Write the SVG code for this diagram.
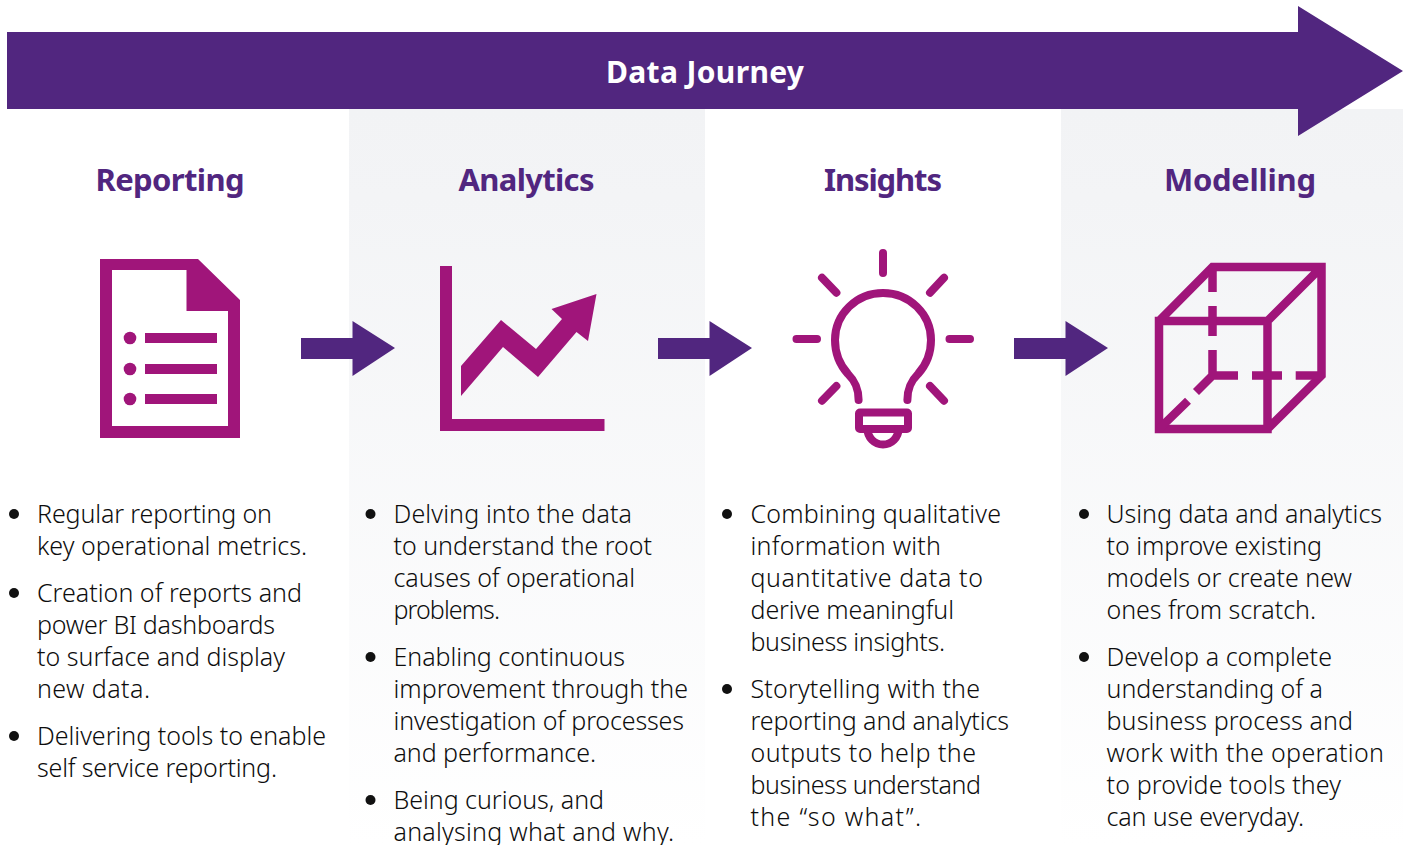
<svg xmlns="http://www.w3.org/2000/svg" width="1409" height="845" viewBox="0 0 1409 845">
<style>
.body{font-family:"Noto Sans","Open Sans","Liberation Sans",sans-serif;font-size:25px;font-weight:300;fill:#0d0d0d}
.head{font-family:"Noto Sans","Open Sans","Liberation Sans",sans-serif;font-size:31px;font-weight:700;fill:#51267f;text-anchor:middle}
.title{font-family:"Noto Sans","Open Sans","Liberation Sans",sans-serif;font-size:30px;font-weight:700;fill:#fff;text-anchor:middle}
.icon{fill:#a0157a;fill-rule:evenodd}
.ln{fill:none;stroke:#a0157a;stroke-width:8;stroke-linecap:round}
.cube{fill:none;stroke:#a0157a;stroke-width:8.5;stroke-linecap:butt}
.arrow{fill:#51267f}
.dot{fill:#111}
</style>
<defs>
<linearGradient id="panel" x1="0" y1="0" x2="0" y2="1"><stop offset="0" stop-color="#f2f3f5"/><stop offset="0.12" stop-color="#f3f4f6"/><stop offset="1" stop-color="#fff"/></linearGradient>
<polygon id="step" points="0,17 51.500,17 51.500,0 94,27 51.500,55 51.500,38 0,38"/>
</defs>
<rect width="1409" height="845" fill="#fff"/>
<rect x="349" y="109" width="356" height="736" fill="url(#panel)"/>
<rect x="1061" y="109" width="342" height="736" fill="url(#panel)"/>

<g id="banner">
<polygon class="arrow" points="7,32 1298,32 1298,6 1403,71 1298,136 1298,109 7,109"/>
<text class="title" x="705" y="83" textLength="198">Data Journey</text>
</g>

<g id="connectors">
<use href="#step" class="arrow" x="301" y="321"/>
<use href="#step" class="arrow" x="658" y="321"/>
<use href="#step" class="arrow" x="1014" y="321"/>
</g>

<g id="reporting">
<text class="head" x="170" y="191" textLength="149">Reporting</text>
<path class="icon" d="M100 259H198L240 300V438H100ZM112 270V426H228V311H186.500V270Z"/>
<g class="icon"><circle cx="130" cy="338" r="6.300"/><circle cx="130" cy="369" r="6.300"/><circle cx="130" cy="399" r="6.300"/>
<rect x="145" y="333" width="72" height="10"/><rect x="145" y="364" width="72" height="10"/><rect x="145" y="394" width="72" height="10"/></g>
<g class="dot"><circle cx="14" cy="514" r="5"/><circle cx="14" cy="593" r="5"/><circle cx="14" cy="736" r="5"/></g>
<g class="body">
<text x="37" y="523" textLength="235">Regular reporting on</text>
<text x="37" y="555" textLength="270">key operational metrics.</text>
<text x="37" y="602" textLength="265">Creation of reports and</text>
<text x="37" y="634" textLength="238">power BI dashboards</text>
<text x="37" y="666" textLength="248">to surface and display</text>
<text x="37" y="698" textLength="113">new data.</text>
<text x="37" y="745" textLength="289">Delivering tools to enable</text>
<text x="37" y="777" textLength="240">self service reporting.</text>
</g>
</g>

<g id="analytics">
<text class="head" x="526.500" y="191" textLength="136">Analytics</text>
<path class="icon" d="M440 266H452V419H604.500V431H440Z"/>
<polygon class="icon" points="461,366 501,320 536,349 562,319 551.500,309 596.500,294 588,341 576.500,332 538,377 503,347 461,396"/>
<g class="dot"><circle cx="370.500" cy="514" r="5"/><circle cx="370.500" cy="657" r="5"/><circle cx="370.500" cy="800" r="5"/></g>
<g class="body">
<text x="393.500" y="523" textLength="238.500">Delving into the data</text>
<text x="393.500" y="555" textLength="258.500">to understand the root</text>
<text x="393.500" y="587" textLength="241.500">causes of operational</text>
<text x="393.500" y="619" textLength="106.500">problems.</text>
<text x="393.500" y="666" textLength="231.500">Enabling continuous</text>
<text x="393.500" y="698" textLength="294.500">improvement through the</text>
<text x="393.500" y="730" textLength="290.500">investigation of processes</text>
<text x="393.500" y="762" textLength="202.500">and performance.</text>
<text x="393.500" y="809" textLength="210.500">Being curious, and</text>
<text x="393.500" y="841" textLength="280.500">analysing what and why.</text>
</g>
</g>

<g id="insights">
<text class="head" x="883" y="191" textLength="118">Insights</text>
<path class="ln" d="M883 253V273M796.500 339H817M949.500 339H970M822 277.700L836.400 292.700M944 277.700L930 292.700M836.400 386L822 400.700M930 386L944 400.700"/>
<path class="ln" d="M858.600 400C858.600 388 855 381 848 374C839 364 835 352 835 340A48 47 0 0 1 931 340C931 352 927 364 918 374C911 381 907.400 388 907.400 400"/>
<rect x="859" y="412.500" width="49" height="16.500" rx="1" class="ln" stroke-width="7"/>
<path class="ln" d="M867.500 429A15.500 15.500 0 0 0 898.500 429" stroke-width="7"/>
<g class="dot"><circle cx="727" cy="514" r="5"/><circle cx="727" cy="689" r="5"/></g>
<g class="body">
<text x="750.500" y="523" textLength="250.500">Combining qualitative</text>
<text x="750.500" y="555" textLength="190.500">information with</text>
<text x="750.500" y="587" textLength="232.500">quantitative data to</text>
<text x="750.500" y="619" textLength="203.500">derive meaningful</text>
<text x="750.500" y="651" textLength="194.500">business insights.</text>
<text x="750.500" y="698" textLength="229.500">Storytelling with the</text>
<text x="750.500" y="730" textLength="258.500">reporting and analytics</text>
<text x="750.500" y="762" textLength="225.500">outputs to help the</text>
<text x="750.500" y="794" textLength="230.500">business understand</text>
<text x="750.500" y="826" textLength="170.500">the “so what”.</text>
</g>
</g>

<g id="modelling">
<text class="head" x="1240" y="191" textLength="152">Modelling</text>
<path class="cube" d="M1159 321H1267.500V429H1159ZM1159 321L1212.500 267H1321.500V375.500L1267.500 429M1267.500 321L1321.500 267"/>
<path class="cube" d="M1212.500 267V292M1212.500 306V336M1212.500 350V375.500M1212.500 375.500H1238M1252 375.500H1282M1295.700 375.500H1321.500M1212.500 375.500L1196 392M1188 400.700L1159 429"/>
<g class="dot"><circle cx="1084" cy="514" r="5"/><circle cx="1084" cy="657" r="5"/></g>
<g class="body">
<text x="1106.500" y="523" textLength="275.500">Using data and analytics</text>
<text x="1106.500" y="555" textLength="215.500">to improve existing</text>
<text x="1106.500" y="587" textLength="245.500">models or create new</text>
<text x="1106.500" y="619" textLength="209.500">ones from scratch.</text>
<text x="1106.500" y="666" textLength="225.500">Develop a complete</text>
<text x="1106.500" y="698" textLength="216.500">understanding of a</text>
<text x="1106.500" y="730" textLength="246.500">business process and</text>
<text x="1106.500" y="762" textLength="277.500">work with the operation</text>
<text x="1106.500" y="794" textLength="234.500">to provide tools they</text>
<text x="1106.500" y="826" textLength="197.500">can use everyday.</text>
</g>
</g>
</svg>
